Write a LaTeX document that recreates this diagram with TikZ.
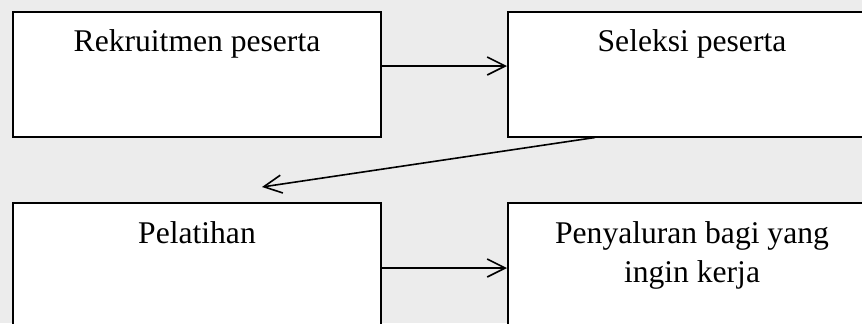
\documentclass[tikz,border=0pt]{standalone}
\usepackage{fontspec}
\setmainfont{Liberation Serif}
\usetikzlibrary{arrows.meta, positioning}
\definecolor{bggray}{RGB}{236,236,236}
\tikzset{
  % Arrowhead
  >={Straight Barb[length=9pt, width=9pt]},
  % Step box, text near the top
  stepbox/.style={draw, fill=white, line width=1pt, shape=rectangle,
    minimum width=184pt, minimum height=62.5pt, inner sep=0pt,
    text height=20pt, text depth=42.5pt,
    font=\fontsize{15.8}{19.8}\selectfont},
  % Connecting arrows
  flow/.style={->, line width=0.8pt},
}

\begin{document}
\begin{tikzpicture}[x=0.5pt, y=-0.5pt]
  \fill[bggray] (0,0) rectangle (862,323);
  \useasboundingbox (0,0) rectangle (862,323);

  \node[stepbox] (rekrut) at (197,74) {Rekruitmen peserta};
  \node[stepbox] (seleksi) at (692,74) {Seleksi peserta};
  \node[stepbox] (latih) at (197,265.5) {Pelatihan};
  \node[stepbox] (salur) at (692,265.5)
    {\begin{tabular}[t]{@{}c@{}}Penyaluran bagi yang\\ingin kerja\end{tabular}};

  \draw[flow] ([yshift=4pt]rekrut.east) -- ([yshift=4pt]seleksi.west);
  \draw[flow] ([xshift=44pt]seleksi.south west)
    -- ([shift={(32.5pt,7.5pt)}]latih.north);
  \draw[flow] ([yshift=-1.25pt]latih.east) -- ([yshift=-1.25pt]salur.west);
\end{tikzpicture}
\end{document}
